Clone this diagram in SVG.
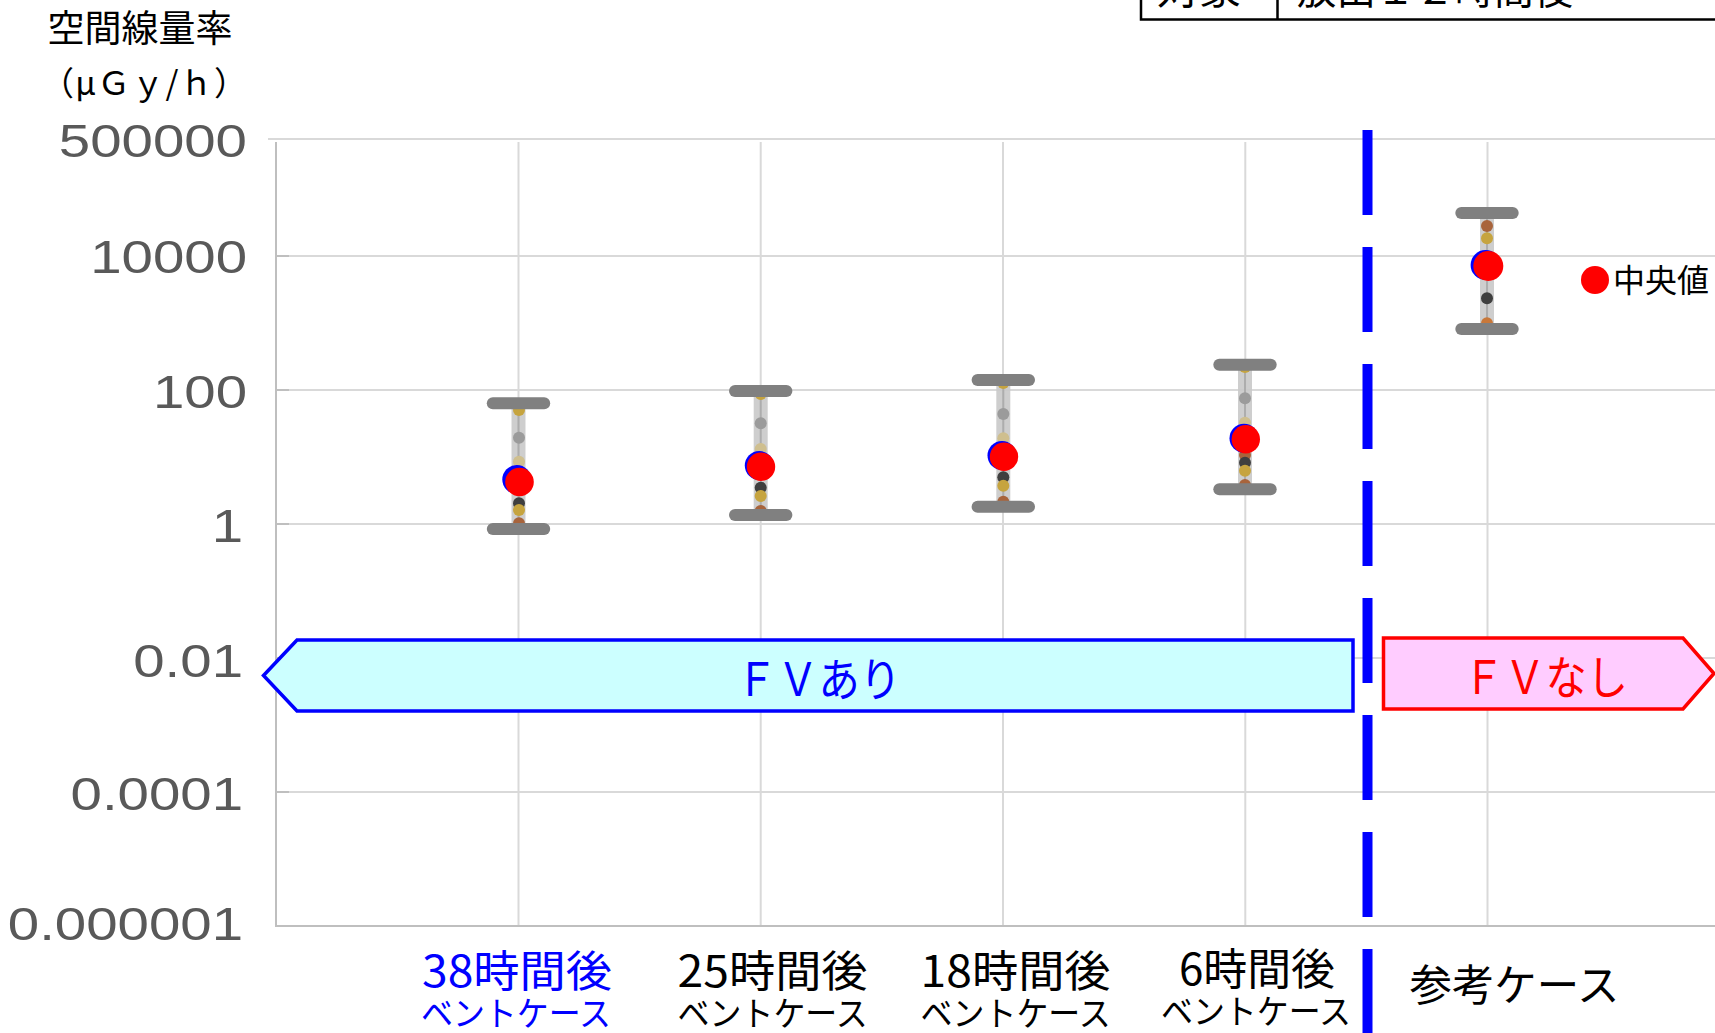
<svg xmlns="http://www.w3.org/2000/svg" width="1715" height="1033" viewBox="0 0 1715 1033">
<style>
.grid{stroke:#d9d9d9;stroke-width:2;fill:none}
.axis{stroke:#bfbfbf;stroke-width:2;fill:none}
.yt{font-family:"Liberation Sans",Arial,sans-serif;font-size:47px;fill:#595959;text-anchor:end}
.jp{font-family:"Noto Sans CJK JP","Noto Sans CJK SC",sans-serif}
.xl1{font-size:43px;text-anchor:middle}
.xl2{font-size:34px;text-anchor:middle}
.blk{fill:#000}
.blu{fill:#0000ff}
.bar{fill:#c9c9c9;opacity:0.9}
.barc{stroke:#adadad;stroke-width:2}
.cap{stroke:#808080;stroke-width:12;stroke-linecap:round}
.gold{fill:#c6a43f}
.gray{fill:#9b9b9b}
.tan{fill:#cfbf8f}
.dark{fill:#3f3f3f}
.brown{fill:#a8643c}
.bo{fill:#0000ff}
.med{fill:#ff0000}
.tbl{stroke:#000;stroke-width:2.5;fill:none}
</style>

<g id="table">
<path class="tbl" d="M1141,-5 V19.5 H1715 M1277.5,-5 V19.5"/>
<text class="jp blk" x="1157" y="4" font-size="42">対象</text>
<text class="jp blk" x="1297" y="4" font-size="40" textLength="276" lengthAdjust="spacingAndGlyphs">放出１２時間後</text>
</g>

<g id="y-title">
<text class="jp blk" x="140" y="42" font-size="37" text-anchor="middle">空間線量率</text>
<text class="jp blk" x="144" y="95" font-size="33" text-anchor="middle" textLength="206" lengthAdjust="spacing">（μＧｙ/ｈ）</text>
</g>

<g id="gridlines">
<line class="grid" x1="268" y1="139" x2="1715" y2="139"/>
<line class="grid" x1="276" y1="256" x2="1715" y2="256"/>
<line class="grid" x1="276" y1="390" x2="1715" y2="390"/>
<line class="grid" x1="276" y1="524" x2="1715" y2="524"/>
<line class="grid" x1="276" y1="658" x2="1715" y2="658"/>
<line class="grid" x1="276" y1="792" x2="1715" y2="792"/>
<line class="grid" x1="518.5" y1="142" x2="518.5" y2="926"/>
<line class="grid" x1="760.7" y1="142" x2="760.7" y2="926"/>
<line class="grid" x1="1003" y1="142" x2="1003" y2="926"/>
<line class="grid" x1="1245.3" y1="142" x2="1245.3" y2="926"/>
<line class="grid" x1="1487.5" y1="142" x2="1487.5" y2="926"/>
</g>

<g id="axes">
<line class="axis" x1="276" y1="142" x2="276" y2="927"/>
<line class="axis" x1="275" y1="926" x2="1715" y2="926"/>
<path class="axis" d="M276,256 H289 M276,390 H289 M276,524 H289 M276,658 H289 M276,792 H289"/>
</g>

<g id="y-labels">
<text class="yt" transform="translate(247,157) scale(1.2,1)">500000</text>
<text class="yt" transform="translate(247,273) scale(1.2,1)">10000</text>
<text class="yt" transform="translate(247,408) scale(1.2,1)">100</text>
<text class="yt" transform="translate(243,541.5) scale(1.2,1)">1</text>
<text class="yt" transform="translate(243,676.5) scale(1.2,1)">0.01</text>
<text class="yt" transform="translate(243,810) scale(1.2,1)">0.0001</text>
<text class="yt" transform="translate(243,940) scale(1.2,1)">0.000001</text>
</g>

<g id="fv-ari">
<polygon points="263.5,675.5 297,640 1353,640 1353,711 297,711" fill="#ccffff" stroke="#0000ff" stroke-width="3.5" stroke-linejoin="miter"/>
<text class="jp blu" x="818.5" y="696" font-size="46" text-anchor="middle" textLength="165" lengthAdjust="spacingAndGlyphs">ＦＶあり</text>
</g>

<g id="fv-nashi">
<polygon points="1383.5,638 1683,638 1714,673.5 1683,709 1383.5,709" fill="#ffccff" stroke="#ff0000" stroke-width="3.5"/>
<text class="jp" fill="#ff0000" x="1545.5" y="694" font-size="46" text-anchor="middle" textLength="165" lengthAdjust="spacingAndGlyphs">ＦＶなし</text>
</g>

<g id="connectors">
<line x1="1367.5" y1="130" x2="1367.5" y2="1040" stroke="#0000ff" stroke-width="10" stroke-dasharray="85 32"/>
</g>

<g id="cat-38h">
<rect class="bar" x="511.5" y="409" width="14" height="114"/>
<line class="barc" x1="518.5" y1="409" x2="518.5" y2="523"/>
<circle class="gold" cx="519" cy="410" r="6"/>
<circle class="gray" cx="519" cy="437.7" r="6"/>
<circle class="tan" cx="519" cy="461.7" r="6"/>
<circle class="dark" cx="519" cy="503.3" r="6"/>
<circle class="gold" cx="519" cy="510" r="6"/>
<circle class="brown" cx="519" cy="523.3" r="6"/>
<circle class="bo" cx="516.8" cy="479.5" r="14.5"/>
<circle class="med" cx="519.5" cy="482" r="14.3"/>
<line class="cap" x1="492.8" y1="403.3" x2="544.2" y2="403.3"/>
<line class="cap" x1="492.8" y1="529" x2="544.2" y2="529"/>
</g>

<g id="cat-25h">
<rect class="bar" x="753.7" y="397" width="14" height="112"/>
<line class="barc" x1="760.7" y1="397" x2="760.7" y2="509"/>
<circle class="gold" cx="760.7" cy="394" r="6"/>
<circle class="gray" cx="760.7" cy="423.3" r="6"/>
<circle class="tan" cx="760.7" cy="449" r="6"/>
<circle class="dark" cx="760.7" cy="487.7" r="6"/>
<circle class="gold" cx="760.7" cy="496" r="6"/>
<circle class="brown" cx="760.7" cy="511" r="6"/>
<circle class="bo" cx="759.3" cy="465.5" r="14.5"/>
<circle class="med" cx="761" cy="466.7" r="14.2"/>
<line class="cap" x1="735" y1="391" x2="786.4" y2="391"/>
<line class="cap" x1="735" y1="515" x2="786.4" y2="515"/>
</g>

<g id="cat-18h">
<rect class="bar" x="996.3" y="386" width="14" height="115"/>
<line class="barc" x1="1003.3" y1="386" x2="1003.3" y2="501"/>
<circle class="gold" cx="1003.3" cy="383" r="6"/>
<circle class="gray" cx="1003.3" cy="414" r="6"/>
<circle class="tan" cx="1003.3" cy="438.3" r="6"/>
<circle class="dark" cx="1003.3" cy="477.3" r="6"/>
<circle class="gold" cx="1003.3" cy="485.7" r="6"/>
<circle class="brown" cx="1003.3" cy="501.7" r="6"/>
<circle class="bo" cx="1002" cy="455.5" r="14.5"/>
<circle class="med" cx="1004" cy="456.7" r="14.2"/>
<line class="cap" x1="977.6" y1="380" x2="1029" y2="380"/>
<line class="cap" x1="977.6" y1="506.7" x2="1029" y2="506.7"/>
</g>

<g id="cat-6h">
<rect class="bar" x="1238" y="370" width="14" height="114"/>
<line class="barc" x1="1245" y1="370" x2="1245" y2="484"/>
<circle class="gold" cx="1245" cy="367" r="6"/>
<circle class="gray" cx="1245" cy="398.3" r="6"/>
<circle class="tan" cx="1245" cy="422.7" r="6" fill="#dccb8f"/>
<circle class="brown" cx="1245" cy="455" r="6"/>
<circle class="dark" cx="1245" cy="462.7" r="6"/>
<circle class="gold" cx="1245" cy="470.7" r="6"/>
<circle class="brown" cx="1245" cy="485" r="6"/>
<circle class="bo" cx="1244" cy="438.3" r="14.5"/>
<circle class="med" cx="1245.8" cy="439.3" r="14.2"/>
<line class="cap" x1="1219.3" y1="364.7" x2="1270.7" y2="364.7"/>
<line class="cap" x1="1219.3" y1="489.3" x2="1270.7" y2="489.3"/>
</g>

<g id="cat-ref">
<rect class="bar" x="1480" y="219" width="14" height="104"/>
<line class="barc" x1="1487" y1="219" x2="1487" y2="323"/>
<circle class="brown" cx="1487" cy="226" r="6" fill="#b0693d"/>
<circle class="gold" cx="1487" cy="238.3" r="6"/>
<circle class="dark" cx="1487" cy="298.3" r="6"/>
<circle cx="1487" cy="323.3" r="6" fill="#c8783a"/>
<circle class="bo" cx="1485.6" cy="265" r="15"/>
<circle class="med" cx="1488.3" cy="266" r="15"/>
<line class="cap" x1="1461.3" y1="213" x2="1512.7" y2="213"/>
<line class="cap" x1="1461.3" y1="329" x2="1512.7" y2="329"/>
</g>

<g id="legend">
<circle class="med" cx="1595" cy="280" r="14"/>
<text class="jp blk" x="1613" y="292" font-size="32">中央値</text>
</g>

<g id="x-labels">
<text class="jp xl1 blu" x="517" y="987" textLength="190" lengthAdjust="spacingAndGlyphs">38時間後</text>
<text class="jp xl2 blu" x="516" y="1026" textLength="190" lengthAdjust="spacingAndGlyphs">ベントケース</text>
<text class="jp xl1 blk" x="772.6" y="987" textLength="190" lengthAdjust="spacingAndGlyphs">25時間後</text>
<text class="jp xl2 blk" x="772.6" y="1026" textLength="190" lengthAdjust="spacingAndGlyphs">ベントケース</text>
<text class="jp xl1 blk" x="1015.6" y="987" textLength="190" lengthAdjust="spacingAndGlyphs">18時間後</text>
<text class="jp xl2 blk" x="1015.6" y="1026" textLength="190" lengthAdjust="spacingAndGlyphs">ベントケース</text>
<text class="jp xl1 blk" x="1257" y="985" textLength="156" lengthAdjust="spacingAndGlyphs">6時間後</text>
<text class="jp xl2 blk" x="1256" y="1024" textLength="190" lengthAdjust="spacingAndGlyphs">ベントケース</text>
<text class="jp xl1 blk" x="1514.5" y="1001" textLength="210" lengthAdjust="spacingAndGlyphs">参考ケース</text>
</g>
</svg>
